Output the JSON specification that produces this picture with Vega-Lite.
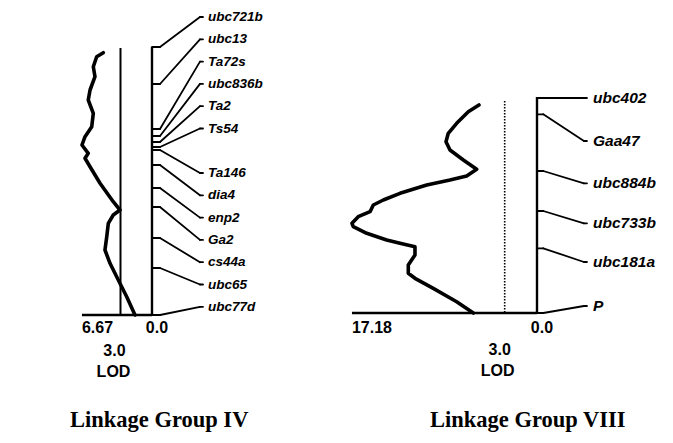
{
  "$schema": "https://vega.github.io/schema/vega-lite/v6.json",
  "padding": 0,
  "spacing": 0,
  "background": "white",
  "config": {"view": {"stroke": null}},
  "datasets": {
    "groups": [
      {"group": "IV", "top": 0, "bottom": 134, "thrTop": 0.5, "maxLod": 6.67, "threshold": 3, "title": "Linkage Group IV"},
      {"group": "VIII", "top": 0, "bottom": 108, "thrTop": 2, "maxLod": 17.18, "threshold": 3, "title": "Linkage Group VIII"}
    ],
    "lod": [
      {"group": "IV", "pos": 2.85, "lod": 4.64},
      {"group": "IV", "pos": 4.85, "lod": 5.27},
      {"group": "IV", "pos": 9.85, "lod": 5.59},
      {"group": "IV", "pos": 14.85, "lod": 5.43},
      {"group": "IV", "pos": 21.5, "lod": 5.9},
      {"group": "IV", "pos": 26.5, "lod": 6.07},
      {"group": "IV", "pos": 33.15, "lod": 5.59},
      {"group": "IV", "pos": 39.85, "lod": 5.74},
      {"group": "IV", "pos": 44.85, "lod": 6.38},
      {"group": "IV", "pos": 49, "lod": 6.67},
      {"group": "IV", "pos": 53.15, "lod": 6.07},
      {"group": "IV", "pos": 55.65, "lod": 6.38},
      {"group": "IV", "pos": 59.85, "lod": 5.9},
      {"group": "IV", "pos": 68.15, "lod": 4.95},
      {"group": "IV", "pos": 77.35, "lod": 3.69},
      {"group": "IV", "pos": 81.5, "lod": 3.05},
      {"group": "IV", "pos": 84, "lod": 3.69},
      {"group": "IV", "pos": 88.15, "lod": 4.16},
      {"group": "IV", "pos": 94.85, "lod": 4.31},
      {"group": "IV", "pos": 101.5, "lod": 4.48},
      {"group": "IV", "pos": 108.15, "lod": 4.0},
      {"group": "IV", "pos": 116.5, "lod": 3.21},
      {"group": "IV", "pos": 124.85, "lod": 2.41},
      {"group": "IV", "pos": 134, "lod": 1.62},
      {"group": "VIII", "pos": 4, "lod": 5.39},
      {"group": "VIII", "pos": 7.35, "lod": 6.38},
      {"group": "VIII", "pos": 13.15, "lod": 7.46},
      {"group": "VIII", "pos": 18.15, "lod": 8.24},
      {"group": "VIII", "pos": 22.35, "lod": 8.45},
      {"group": "VIII", "pos": 26.5, "lod": 8.08},
      {"group": "VIII", "pos": 31.5, "lod": 6.84},
      {"group": "VIII", "pos": 36.15, "lod": 5.6},
      {"group": "VIII", "pos": 39.5, "lod": 6.53},
      {"group": "VIII", "pos": 41.5, "lod": 8.08},
      {"group": "VIII", "pos": 44, "lod": 10.24},
      {"group": "VIII", "pos": 48.15, "lod": 12.72},
      {"group": "VIII", "pos": 51.5, "lod": 14.27},
      {"group": "VIII", "pos": 54, "lod": 15.2},
      {"group": "VIII", "pos": 57.35, "lod": 15.5},
      {"group": "VIII", "pos": 59.85, "lod": 16.6},
      {"group": "VIII", "pos": 63.15, "lod": 17.18},
      {"group": "VIII", "pos": 64.85, "lod": 17.06},
      {"group": "VIII", "pos": 68.15, "lod": 15.81},
      {"group": "VIII", "pos": 71.5, "lod": 13.96},
      {"group": "VIII", "pos": 73.15, "lod": 12.72},
      {"group": "VIII", "pos": 74.85, "lod": 11.33},
      {"group": "VIII", "pos": 79, "lod": 11.33},
      {"group": "VIII", "pos": 84, "lod": 11.95},
      {"group": "VIII", "pos": 88.15, "lod": 11.95},
      {"group": "VIII", "pos": 90.65, "lod": 11.33},
      {"group": "VIII", "pos": 95.65, "lod": 9.63},
      {"group": "VIII", "pos": 102.35, "lod": 7.46},
      {"group": "VIII", "pos": 108, "lod": 5.91}
    ],
    "markers": [
      {"group": "IV", "marker": "ubc721b", "pos": 0, "labelPos": -15},
      {"group": "IV", "marker": "ubc13", "pos": 18.5, "labelPos": -3.85},
      {"group": "IV", "marker": "Ta72s", "pos": 41, "labelPos": 7.3},
      {"group": "IV", "marker": "ubc836b", "pos": 44.5, "labelPos": 18.45},
      {"group": "IV", "marker": "Ta2", "pos": 47.5, "labelPos": 29.6},
      {"group": "IV", "marker": "Ts54", "pos": 50, "labelPos": 40.75},
      {"group": "IV", "marker": "Ta146", "pos": 51.5, "labelPos": 63},
      {"group": "IV", "marker": "dia4", "pos": 59, "labelPos": 74.15},
      {"group": "IV", "marker": "enp2", "pos": 70.5, "labelPos": 85.3},
      {"group": "IV", "marker": "Ga2", "pos": 80, "labelPos": 96.45},
      {"group": "IV", "marker": "cs44a", "pos": 95.5, "labelPos": 107.6},
      {"group": "IV", "marker": "ubc65", "pos": 110.5, "labelPos": 118.75},
      {"group": "IV", "marker": "ubc77d", "pos": 134, "labelPos": 129.9},
      {"group": "VIII", "marker": "ubc402", "pos": 0.5, "labelPos": 0.5},
      {"group": "VIII", "marker": "Gaa47", "pos": 8.65, "labelPos": 22},
      {"group": "VIII", "marker": "ubc884b", "pos": 37, "labelPos": 43.15},
      {"group": "VIII", "marker": "ubc733b", "pos": 57, "labelPos": 63.15},
      {"group": "VIII", "marker": "ubc181a", "pos": 75.65, "labelPos": 82.5},
      {"group": "VIII", "marker": "P", "pos": 108, "labelPos": 104.5}
    ]
  },
  "hconcat": [
    {
      "width": 336,
      "height": 443,
      "layer": [
        {
          "data": {"name": "groups"},
          "transform": [{"filter": "datum.group == 'IV'"}],
          "mark": {"type": "rule", "strokeWidth": 2, "color": "black"},
          "encoding": {
            "x": {"field": "threshold", "type": "quantitative", "scale": {"domain": [-17.524, 14.476], "reverse": true, "nice": false, "zero": false}, "axis": null},
            "y": {"field": "thrTop", "type": "quantitative", "scale": {"domain": [-23.5, 198], "reverse": true, "nice": false, "zero": false}, "axis": null},
            "y2": {"field": "bottom"}
          }
        },
        {
          "data": {"name": "groups"},
          "transform": [{"filter": "datum.group == 'IV'"}],
          "mark": {"type": "rule", "strokeWidth": 2.4, "color": "black"},
          "encoding": {
            "x": {"datum": 0, "type": "quantitative", "scale": {"domain": [-17.524, 14.476], "reverse": true, "nice": false, "zero": false}, "axis": null},
            "y": {"field": "top", "type": "quantitative", "scale": {"domain": [-23.5, 198], "reverse": true, "nice": false, "zero": false}, "axis": null},
            "y2": {"field": "bottom"}
          }
        },
        {
          "data": {"name": "groups"},
          "transform": [{"filter": "datum.group == 'IV'"}],
          "mark": {"type": "rule", "strokeWidth": 2.6, "color": "black"},
          "encoding": {
            "x": {"field": "maxLod", "type": "quantitative", "scale": {"domain": [-17.524, 14.476], "reverse": true, "nice": false, "zero": false}, "axis": null},
            "x2": {"datum": 0},
            "y": {"field": "bottom", "type": "quantitative", "scale": {"domain": [-23.5, 198], "reverse": true, "nice": false, "zero": false}, "axis": null}
          }
        },
        {
          "data": {"name": "lod"},
          "transform": [{"filter": "datum.group == 'IV'"}],
          "mark": {"type": "line", "strokeWidth": 3.6, "color": "black", "strokeJoin": "round", "strokeCap": "round"},
          "encoding": {
            "x": {"field": "lod", "type": "quantitative", "scale": {"domain": [-17.524, 14.476], "reverse": true, "nice": false, "zero": false}, "axis": null},
            "y": {"field": "pos", "type": "quantitative", "scale": {"domain": [-23.5, 198], "reverse": true, "nice": false, "zero": false}, "axis": null},
            "order": {"field": "pos", "type": "quantitative"}
          }
        },
        {
          "data": {"name": "markers"},
          "transform": [{"filter": "datum.group == 'IV'"}],
          "mark": {"type": "rule", "strokeWidth": 1.8, "color": "black", "strokeCap": "round"},
          "encoding": {
            "x": {"datum": 0, "type": "quantitative", "scale": {"domain": [-17.524, 14.476], "reverse": true, "nice": false, "zero": false}, "axis": null},
            "x2": {"datum": -0.762},
            "y": {"field": "pos", "type": "quantitative", "scale": {"domain": [-23.5, 198], "reverse": true, "nice": false, "zero": false}, "axis": null}
          }
        },
        {
          "data": {"name": "markers"},
          "transform": [{"filter": "datum.group == 'IV'"}],
          "mark": {"type": "rule", "strokeWidth": 1.8, "color": "black", "strokeCap": "round"},
          "encoding": {
            "x": {"datum": -0.762, "type": "quantitative", "scale": {"domain": [-17.524, 14.476], "reverse": true, "nice": false, "zero": false}, "axis": null},
            "x2": {"datum": -4.57},
            "y": {"field": "pos", "type": "quantitative", "scale": {"domain": [-23.5, 198], "reverse": true, "nice": false, "zero": false}, "axis": null},
            "y2": {"field": "labelPos"}
          }
        },
        {
          "data": {"name": "markers"},
          "transform": [{"filter": "datum.group == 'IV'"}],
          "mark": {"type": "rule", "strokeWidth": 1.8, "color": "black", "strokeCap": "round"},
          "encoding": {
            "x": {"datum": -4.57, "type": "quantitative", "scale": {"domain": [-17.524, 14.476], "reverse": true, "nice": false, "zero": false}, "axis": null},
            "x2": {"datum": -4.857},
            "y": {"field": "labelPos", "type": "quantitative", "scale": {"domain": [-23.5, 198], "reverse": true, "nice": false, "zero": false}, "axis": null}
          }
        },
        {
          "data": {"name": "markers"},
          "transform": [{"filter": "datum.group == 'IV'"}],
          "mark": {"type": "text", "align": "left", "baseline": "middle", "dx": 5, "font": "Liberation Sans", "fontSize": 13.5, "fontWeight": "bold", "fontStyle": "italic", "color": "black"},
          "encoding": {
            "x": {"datum": -4.857, "type": "quantitative", "scale": {"domain": [-17.524, 14.476], "reverse": true, "nice": false, "zero": false}, "axis": null},
            "y": {"field": "labelPos", "type": "quantitative", "scale": {"domain": [-23.5, 198], "reverse": true, "nice": false, "zero": false}, "axis": null},
            "text": {"field": "marker"}
          }
        },
        {
          "data": {"name": "groups"},
          "transform": [{"filter": "datum.group == 'IV'"}],
          "mark": {"type": "text", "align": "left", "baseline": "middle", "dy": 13, "font": "Liberation Sans", "fontSize": 16, "fontWeight": "bold", "color": "black"},
          "encoding": {
            "x": {"field": "maxLod", "type": "quantitative", "scale": {"domain": [-17.524, 14.476], "reverse": true, "nice": false, "zero": false}, "axis": null},
            "y": {"field": "bottom", "type": "quantitative", "scale": {"domain": [-23.5, 198], "reverse": true, "nice": false, "zero": false}, "axis": null},
            "text": {"field": "maxLod", "format": ".2f"}
          }
        },
        {
          "data": {"name": "groups"},
          "transform": [{"filter": "datum.group == 'IV'"}],
          "mark": {"type": "text", "align": "center", "baseline": "middle", "dx": 5, "dy": 13, "font": "Liberation Sans", "fontSize": 16, "fontWeight": "bold", "color": "black"},
          "encoding": {
            "x": {"datum": 0, "type": "quantitative", "scale": {"domain": [-17.524, 14.476], "reverse": true, "nice": false, "zero": false}, "axis": null},
            "y": {"field": "bottom", "type": "quantitative", "scale": {"domain": [-23.5, 198], "reverse": true, "nice": false, "zero": false}, "axis": null},
            "text": {"value": "0.0"}
          }
        },
        {
          "data": {"name": "groups"},
          "transform": [{"filter": "datum.group == 'IV'"}],
          "mark": {"type": "text", "align": "center", "baseline": "middle", "dx": -6, "dy": 36, "font": "Liberation Sans", "fontSize": 16, "fontWeight": "bold", "color": "black"},
          "encoding": {
            "x": {"field": "threshold", "type": "quantitative", "scale": {"domain": [-17.524, 14.476], "reverse": true, "nice": false, "zero": false}, "axis": null},
            "y": {"field": "bottom", "type": "quantitative", "scale": {"domain": [-23.5, 198], "reverse": true, "nice": false, "zero": false}, "axis": null},
            "text": {"field": "threshold", "format": ".1f"}
          }
        },
        {
          "data": {"name": "groups"},
          "transform": [{"filter": "datum.group == 'IV'"}],
          "mark": {"type": "text", "align": "center", "baseline": "middle", "dx": -7, "dy": 57, "font": "Liberation Sans", "fontSize": 16, "fontWeight": "bold", "color": "black"},
          "encoding": {
            "x": {"field": "threshold", "type": "quantitative", "scale": {"domain": [-17.524, 14.476], "reverse": true, "nice": false, "zero": false}, "axis": null},
            "y": {"field": "bottom", "type": "quantitative", "scale": {"domain": [-23.5, 198], "reverse": true, "nice": false, "zero": false}, "axis": null},
            "text": {"value": "LOD"}
          }
        },
        {
          "data": {"name": "groups"},
          "transform": [{"filter": "datum.group == 'IV'"}],
          "mark": {"type": "text", "align": "left", "baseline": "middle", "dy": 105, "font": "Liberation Serif", "fontSize": 22.5, "fontWeight": "bold", "color": "black"},
          "encoding": {
            "x": {"datum": 7.81, "type": "quantitative", "scale": {"domain": [-17.524, 14.476], "reverse": true, "nice": false, "zero": false}, "axis": null},
            "y": {"field": "bottom", "type": "quantitative", "scale": {"domain": [-23.5, 198], "reverse": true, "nice": false, "zero": false}, "axis": null},
            "text": {"field": "title"}
          }
        }
      ]
    },
    {
      "width": 337,
      "height": 443,
      "layer": [
        {
          "data": {"name": "groups"},
          "transform": [{"filter": "datum.group == 'VIII'"}],
          "mark": {"type": "rule", "strokeWidth": 1.6, "color": "black", "strokeDash": [1.5, 1.5]},
          "encoding": {
            "x": {"field": "threshold", "type": "quantitative", "scale": {"domain": [-12.628, 18.663], "reverse": true, "nice": false, "zero": false}, "axis": null},
            "y": {"field": "thrTop", "type": "quantitative", "scale": {"domain": [-48.5, 173], "reverse": true, "nice": false, "zero": false}, "axis": null},
            "y2": {"field": "bottom"}
          }
        },
        {
          "data": {"name": "groups"},
          "transform": [{"filter": "datum.group == 'VIII'"}],
          "mark": {"type": "rule", "strokeWidth": 2.4, "color": "black"},
          "encoding": {
            "x": {"datum": 0, "type": "quantitative", "scale": {"domain": [-12.628, 18.663], "reverse": true, "nice": false, "zero": false}, "axis": null},
            "y": {"field": "top", "type": "quantitative", "scale": {"domain": [-48.5, 173], "reverse": true, "nice": false, "zero": false}, "axis": null},
            "y2": {"field": "bottom"}
          }
        },
        {
          "data": {"name": "groups"},
          "transform": [{"filter": "datum.group == 'VIII'"}],
          "mark": {"type": "rule", "strokeWidth": 2.6, "color": "black"},
          "encoding": {
            "x": {"field": "maxLod", "type": "quantitative", "scale": {"domain": [-12.628, 18.663], "reverse": true, "nice": false, "zero": false}, "axis": null},
            "x2": {"datum": 0},
            "y": {"field": "bottom", "type": "quantitative", "scale": {"domain": [-48.5, 173], "reverse": true, "nice": false, "zero": false}, "axis": null}
          }
        },
        {
          "data": {"name": "lod"},
          "transform": [{"filter": "datum.group == 'VIII'"}],
          "mark": {"type": "line", "strokeWidth": 3.6, "color": "black", "strokeJoin": "round", "strokeCap": "round"},
          "encoding": {
            "x": {"field": "lod", "type": "quantitative", "scale": {"domain": [-12.628, 18.663], "reverse": true, "nice": false, "zero": false}, "axis": null},
            "y": {"field": "pos", "type": "quantitative", "scale": {"domain": [-48.5, 173], "reverse": true, "nice": false, "zero": false}, "axis": null},
            "order": {"field": "pos", "type": "quantitative"}
          }
        },
        {
          "data": {"name": "markers"},
          "transform": [{"filter": "datum.group == 'VIII'"}],
          "mark": {"type": "rule", "strokeWidth": 1.8, "color": "black", "strokeCap": "round"},
          "encoding": {
            "x": {"datum": 0, "type": "quantitative", "scale": {"domain": [-12.628, 18.663], "reverse": true, "nice": false, "zero": false}, "axis": null},
            "x2": {"datum": -0.585},
            "y": {"field": "pos", "type": "quantitative", "scale": {"domain": [-48.5, 173], "reverse": true, "nice": false, "zero": false}, "axis": null}
          }
        },
        {
          "data": {"name": "markers"},
          "transform": [{"filter": "datum.group == 'VIII'"}],
          "mark": {"type": "rule", "strokeWidth": 1.8, "color": "black", "strokeCap": "round"},
          "encoding": {
            "x": {"datum": -0.585, "type": "quantitative", "scale": {"domain": [-12.628, 18.663], "reverse": true, "nice": false, "zero": false}, "axis": null},
            "x2": {"datum": -4.36},
            "y": {"field": "pos", "type": "quantitative", "scale": {"domain": [-48.5, 173], "reverse": true, "nice": false, "zero": false}, "axis": null},
            "y2": {"field": "labelPos"}
          }
        },
        {
          "data": {"name": "markers"},
          "transform": [{"filter": "datum.group == 'VIII'"}],
          "mark": {"type": "rule", "strokeWidth": 1.8, "color": "black", "strokeCap": "round"},
          "encoding": {
            "x": {"datum": -4.36, "type": "quantitative", "scale": {"domain": [-12.628, 18.663], "reverse": true, "nice": false, "zero": false}, "axis": null},
            "x2": {"datum": -4.64},
            "y": {"field": "labelPos", "type": "quantitative", "scale": {"domain": [-48.5, 173], "reverse": true, "nice": false, "zero": false}, "axis": null}
          }
        },
        {
          "data": {"name": "markers"},
          "transform": [{"filter": "datum.group == 'VIII'"}],
          "mark": {"type": "text", "align": "left", "baseline": "middle", "dx": 6, "font": "Liberation Sans", "fontSize": 15.5, "fontWeight": "bold", "fontStyle": "italic", "color": "black"},
          "encoding": {
            "x": {"datum": -4.64, "type": "quantitative", "scale": {"domain": [-12.628, 18.663], "reverse": true, "nice": false, "zero": false}, "axis": null},
            "y": {"field": "labelPos", "type": "quantitative", "scale": {"domain": [-48.5, 173], "reverse": true, "nice": false, "zero": false}, "axis": null},
            "text": {"field": "marker"}
          }
        },
        {
          "data": {"name": "groups"},
          "transform": [{"filter": "datum.group == 'VIII'"}],
          "mark": {"type": "text", "align": "left", "baseline": "middle", "dy": 15, "font": "Liberation Sans", "fontSize": 16, "fontWeight": "bold", "color": "black"},
          "encoding": {
            "x": {"field": "maxLod", "type": "quantitative", "scale": {"domain": [-12.628, 18.663], "reverse": true, "nice": false, "zero": false}, "axis": null},
            "y": {"field": "bottom", "type": "quantitative", "scale": {"domain": [-48.5, 173], "reverse": true, "nice": false, "zero": false}, "axis": null},
            "text": {"field": "maxLod", "format": ".2f"}
          }
        },
        {
          "data": {"name": "groups"},
          "transform": [{"filter": "datum.group == 'VIII'"}],
          "mark": {"type": "text", "align": "center", "baseline": "middle", "dx": 5, "dy": 15, "font": "Liberation Sans", "fontSize": 16, "fontWeight": "bold", "color": "black"},
          "encoding": {
            "x": {"datum": 0, "type": "quantitative", "scale": {"domain": [-12.628, 18.663], "reverse": true, "nice": false, "zero": false}, "axis": null},
            "y": {"field": "bottom", "type": "quantitative", "scale": {"domain": [-48.5, 173], "reverse": true, "nice": false, "zero": false}, "axis": null},
            "text": {"value": "0.0"}
          }
        },
        {
          "data": {"name": "groups"},
          "transform": [{"filter": "datum.group == 'VIII'"}],
          "mark": {"type": "text", "align": "center", "baseline": "middle", "dx": -5, "dy": 37, "font": "Liberation Sans", "fontSize": 16, "fontWeight": "bold", "color": "black"},
          "encoding": {
            "x": {"field": "threshold", "type": "quantitative", "scale": {"domain": [-12.628, 18.663], "reverse": true, "nice": false, "zero": false}, "axis": null},
            "y": {"field": "bottom", "type": "quantitative", "scale": {"domain": [-48.5, 173], "reverse": true, "nice": false, "zero": false}, "axis": null},
            "text": {"field": "threshold", "format": ".1f"}
          }
        },
        {
          "data": {"name": "groups"},
          "transform": [{"filter": "datum.group == 'VIII'"}],
          "mark": {"type": "text", "align": "center", "baseline": "middle", "dx": -7, "dy": 58, "font": "Liberation Sans", "fontSize": 16, "fontWeight": "bold", "color": "black"},
          "encoding": {
            "x": {"field": "threshold", "type": "quantitative", "scale": {"domain": [-12.628, 18.663], "reverse": true, "nice": false, "zero": false}, "axis": null},
            "y": {"field": "bottom", "type": "quantitative", "scale": {"domain": [-48.5, 173], "reverse": true, "nice": false, "zero": false}, "axis": null},
            "text": {"value": "LOD"}
          }
        },
        {
          "data": {"name": "groups"},
          "transform": [{"filter": "datum.group == 'VIII'"}],
          "mark": {"type": "text", "align": "left", "baseline": "middle", "dy": 107, "font": "Liberation Serif", "fontSize": 22.5, "fontWeight": "bold", "color": "black"},
          "encoding": {
            "x": {"datum": 9.935, "type": "quantitative", "scale": {"domain": [-12.628, 18.663], "reverse": true, "nice": false, "zero": false}, "axis": null},
            "y": {"field": "bottom", "type": "quantitative", "scale": {"domain": [-48.5, 173], "reverse": true, "nice": false, "zero": false}, "axis": null},
            "text": {"field": "title"}
          }
        }
      ]
    }
  ]
}
